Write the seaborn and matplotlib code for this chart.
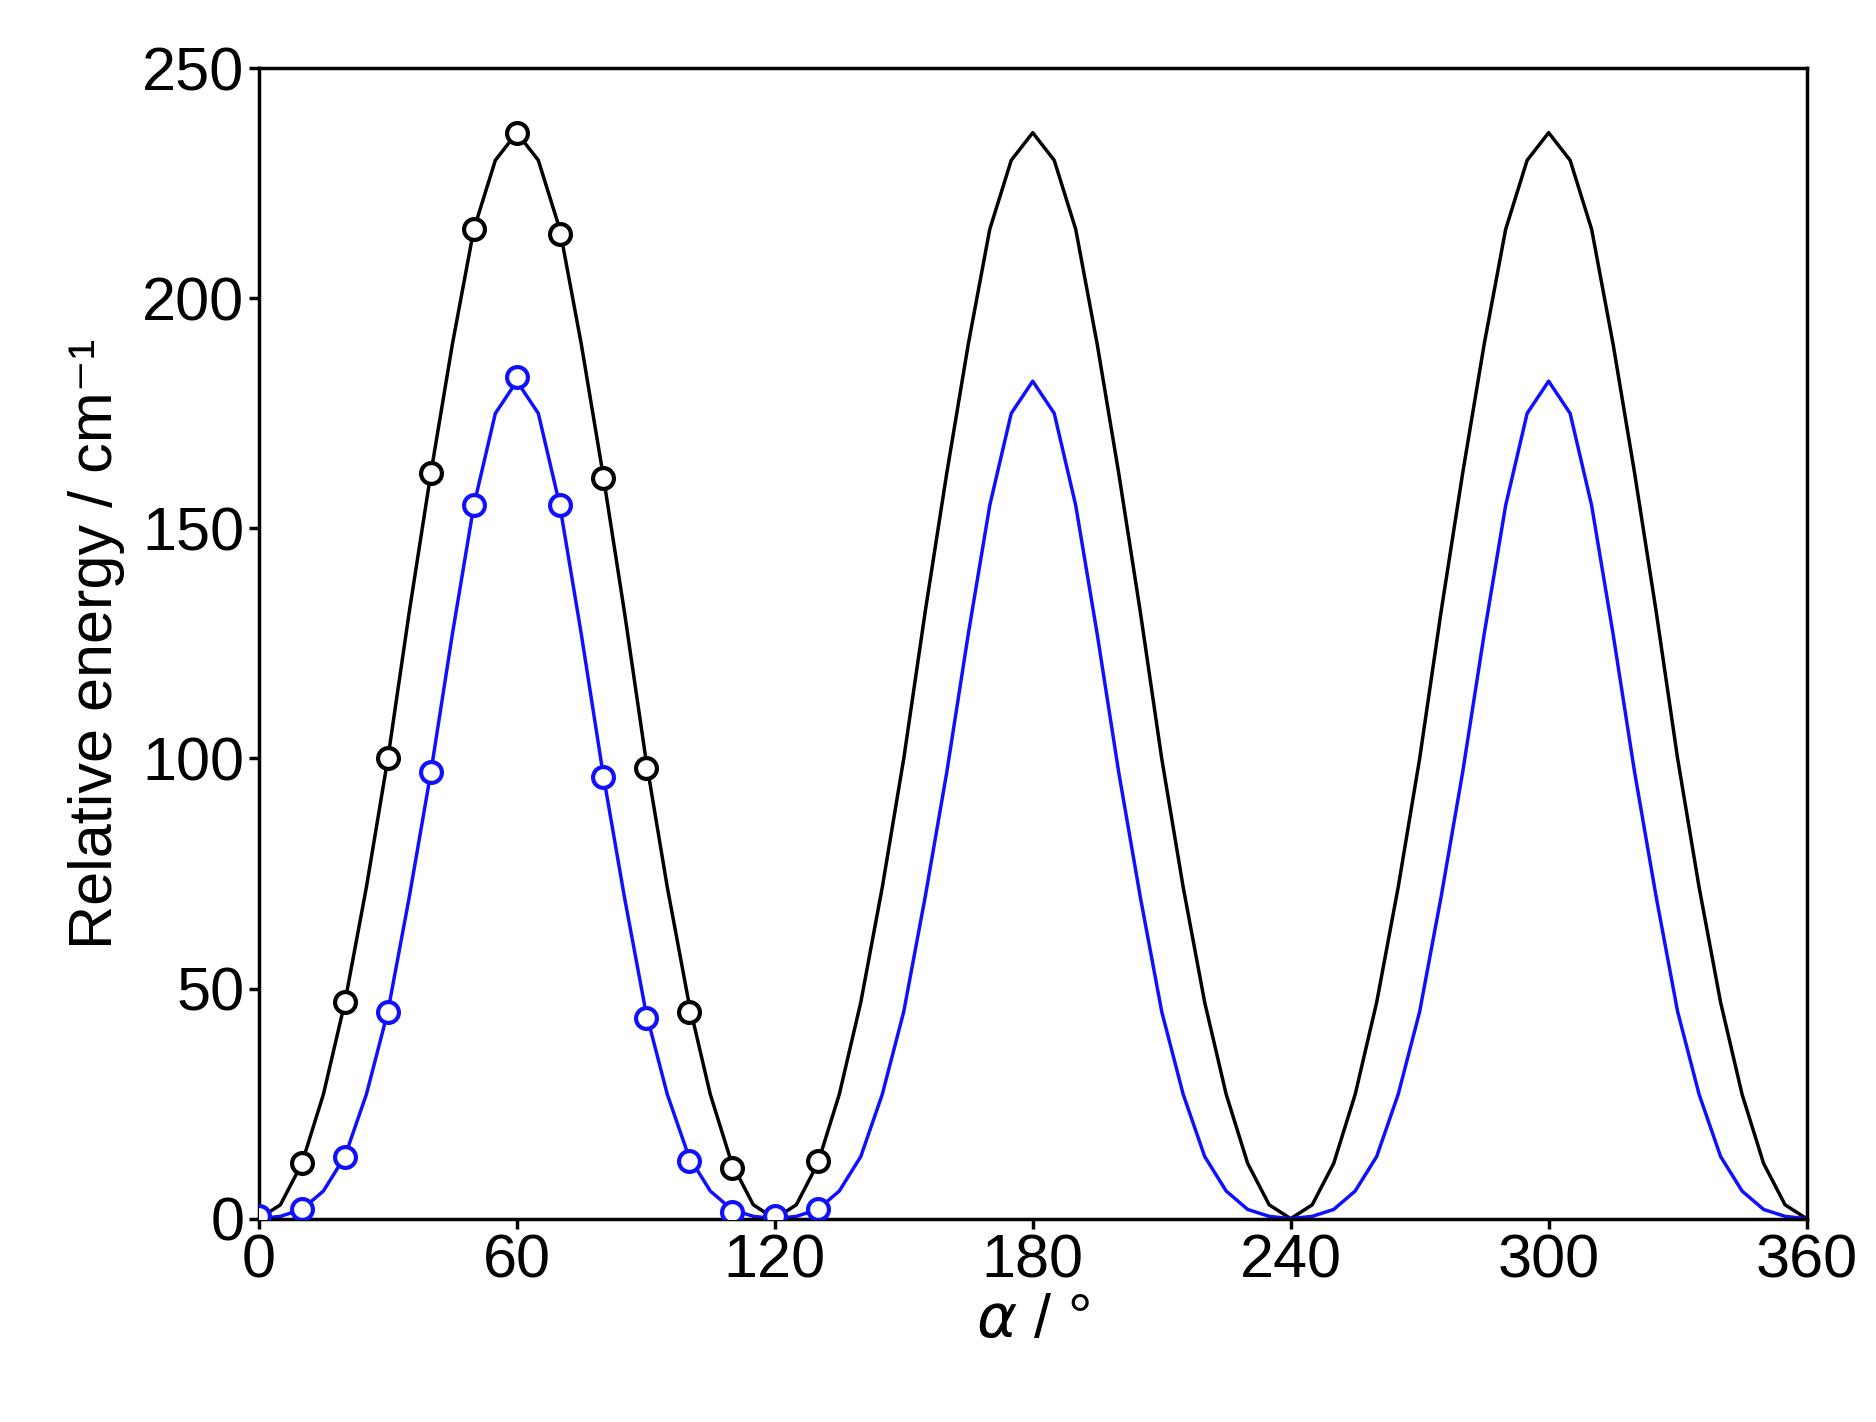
import matplotlib.pyplot as plt
import seaborn as sns
import pandas as pd

# curve values read every 5 deg over one 120-deg period (repeats three times)
curve_deg = list(range(0, 125, 5))
black_curve = [0, 3, 12, 27, 47, 72, 100, 132, 162, 190, 215, 230, 236,
               230, 215, 190, 162, 132, 100, 72, 47, 27, 12, 3, 0]
blue_curve = [0, 0.5, 2, 6, 13.5, 27, 45, 70, 97, 127, 155, 175, 182,
              175, 155, 127, 97, 70, 45, 27, 13.5, 6, 2, 0.5, 0]

# computed points (markers)
pt_deg = [0, 10, 20, 30, 40, 50, 60, 70, 80, 90, 100, 110, 120, 130]
black_pts = [0, 12, 47, 100, 162, 215, 236, 214, 161, 98, 45, 11, 0, 12.5]
blue_pts = [0.5, 2, 13.5, 45, 97, 155, 183, 155, 96, 43.5, 12.5, 1.5, 0.5, 2]

sns.set_theme(style="ticks")
plt.rcParams['font.family'] = ['Liberation Sans', 'DejaVu Sans']
plt.rcParams['text.color'] = 'black'
plt.rcParams['axes.labelcolor'] = 'black'
plt.rcParams['xtick.color'] = 'black'
plt.rcParams['ytick.color'] = 'black'

rows = []
for period in range(3):
    for d, k, b in zip(curve_deg, black_curve, blue_curve):
        if period > 0 and d == 0:
            continue
        rows.append((d + 120 * period, k, b))
df = pd.DataFrame(rows, columns=["alpha", "black", "blue"])

fig = plt.figure(figsize=(18.76, 14.22), dpi=100)
ax = fig.add_axes([0.138, 0.143, 0.825, 0.809])

sns.lineplot(data=df, x="alpha", y="black", color="black", lw=2.5, ax=ax)
sns.lineplot(data=df, x="alpha", y="blue", color="#1010ff", lw=2.5, ax=ax)
ax.plot(pt_deg, black_pts, 'o', ls='none', ms=15, mfc='white', mec='black', mew=3, zorder=5)
ax.plot(pt_deg, blue_pts, 'o', ls='none', ms=15, mfc='white', mec='#1010ff', mew=3, zorder=5)

ax.set_xlim(0, 360)
ax.set_ylim(0, 250)
ax.set_xticks(range(0, 361, 60))
ax.set_yticks(range(0, 251, 50))
ax.tick_params(labelsize=44, width=2.5, length=7, direction='out', colors='black')
for s in ax.spines.values():
    s.set_linewidth(2.5)
    s.set_color('black')
ax.set_xlabel(r"$\alpha$ / °", fontsize=44, labelpad=2)
ax.set_ylabel("Relative energy / cm⁻¹", fontsize=44, labelpad=12)

fig.savefig("out.png", dpi=100)
